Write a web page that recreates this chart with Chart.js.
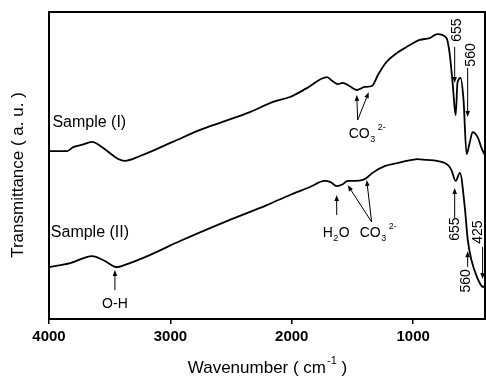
<!DOCTYPE html>
<html lang="en">
<head>
    <meta charset="UTF-8">
    <title>FTIR Spectra</title>
    <style>
        body {
            margin: 0;
            background-color: white;
        }
        canvas {
            display: block;
        }
    </style>
    <script src="https://cdn.jsdelivr.net/npm/chart.js"></script>
</head>
<body>
    <canvas id="ftirChart" width="486" height="377"></canvas>

    <script>
        const FONT = '"Liberation Sans", Arial, sans-serif';

        const tickValues = [4000, 3000, 2000, 1000];

        const wavenumbers1 = [4000, 3850, 3800, 3730, 3645, 3565, 3500, 3430, 3375, 3250, 2980, 2755, 2570, 2345, 2155, 2015, 1875, 1710, 1665, 1620, 1580, 1525, 1465, 1400, 1340, 1290, 1220, 1135, 1055, 945, 865, 800, 725, 700, 675, 650, 635, 610, 585, 560, 535, 510, 470, 430, 400];
        const sample1 = [54.7, 54.7, 56.0, 56.7, 57.7, 56.0, 54.1, 52.1, 51.5, 53.1, 57.7, 61.6, 64.2, 67.4, 70.7, 72.3, 75.2, 78.8, 77.5, 76.5, 76.9, 75.9, 74.6, 75.6, 75.9, 79.5, 83.7, 86.6, 88.6, 90.9, 91.5, 92.8, 91.5, 86.6, 76.9, 66.4, 76.9, 78.5, 71.3, 53.7, 57.3, 60.9, 59.3, 55.0, 52.8];

        const wavenumbers2 = [4000, 3825, 3645, 3540, 3440, 3375, 3170, 2920, 2535, 2205, 2015, 1850, 1730, 1680, 1630, 1580, 1540, 1480, 1415, 1385, 1335, 1235, 1130, 1010, 965, 890, 805, 715, 685, 650, 615, 575, 550, 520, 475, 435, 420, 400];
        const sample2 = [16.9, 18.2, 20.5, 18.9, 16.9, 17.6, 20.8, 25.4, 31.9, 37.1, 40.4, 43.0, 45.0, 44.6, 43.3, 43.9, 45.0, 45.0, 45.3, 45.9, 47.6, 49.8, 50.8, 51.8, 52.1, 51.8, 51.5, 50.2, 48.5, 45.0, 47.6, 36.5, 25.7, 19.2, 13.7, 10.7, 10.4, 11.7];

        // labels and arrows, placed in data units (wavenumber, transmittance)
        const sampleLabels = [
            { text: 'Sample (I)', w: 3972, v: 62.5 },
            { text: 'Sample (II)', w: 3985, v: 26.7 }
        ];
        const chemLabels = [
            { w: 1531, v: 59.0, parts: [['CO', 'n'], ['3', 'sub'], ['2-', 'sup']] },
            { w: 1745, v: 26.7, parts: [['H', 'n'], ['2', 'sub'], ['O', 'n']] },
            { w: 1440, v: 26.7, parts: [['CO', 'n'], ['3', 'sub'], ['2-', 'sup']] },
            { w: 3457, v: 3.6, parts: [['O-H', 'n']] }
        ];
        const peakLabels = [
            { text: '655', w: 634, v: 94.1 },
            { text: '560', w: 519, v: 86.0 },
            { text: '655', w: 658, v: 29.3 },
            { text: '560', w: 560, v: 12.4 },
            { text: '425', w: 461, v: 28.3 }
        ];
        const arrows = [
            { from: [1457, 64.8], to: [1465, 73.0] },
            { from: [1457, 64.8], to: [1366, 73.9] },
            { from: [658, 88.6], to: [658, 76.9] },
            { from: [551, 81.8], to: [551, 65.8] },
            { from: [1630, 33.9], to: [1630, 40.4] },
            { from: [1342, 31.6], to: [1539, 43.6] },
            { from: [1342, 31.6], to: [1383, 45.3] },
            { from: [658, 32.9], to: [658, 42.7] },
            { from: [551, 17.0], to: [551, 22.1] },
            { from: [428, 23.5], to: [428, 13.0] },
            { from: [3457, 9.4], to: [3457, 16.0] }
        ];

        function toPoints(xs, ys) {
            return xs.map((x, i) => ({ x: x, y: ys[i] }));
        }

        function drawArrow(ctx, x1, y1, x2, y2) {
            const ang = Math.atan2(y2 - y1, x2 - x1);
            const len = 6, half = 2.3;
            ctx.beginPath();
            ctx.moveTo(x1, y1);
            ctx.lineTo(x2 - Math.cos(ang) * len, y2 - Math.sin(ang) * len);
            ctx.stroke();
            ctx.beginPath();
            ctx.moveTo(x2, y2);
            ctx.lineTo(x2 - Math.cos(ang) * len - Math.sin(ang) * half, y2 - Math.sin(ang) * len + Math.cos(ang) * half);
            ctx.lineTo(x2 - Math.cos(ang) * len + Math.sin(ang) * half, y2 - Math.sin(ang) * len - Math.cos(ang) * half);
            ctx.closePath();
            ctx.fill();
        }

        function drawChem(ctx, x, y, parts) {
            parts.forEach(([txt, kind]) => {
                if (kind === 'n') {
                    ctx.font = '14px ' + FONT;
                    ctx.fillText(txt, x, y);
                } else if (kind === 'sub') {
                    ctx.font = '9px ' + FONT;
                    ctx.fillText(txt, x + 0.5, y + 4);
                } else {
                    ctx.font = '9px ' + FONT;
                    ctx.fillText(txt, x + 2, y - 8);
                }
                x += ctx.measureText(txt).width + (kind === 'n' ? 0 : 1);
            });
        }

        const decorations = {
            id: 'decorations',
            afterDraw(chart) {
                const ctx = chart.ctx;
                const area = chart.chartArea;
                const xs = chart.scales.x;
                const ys = chart.scales.y;
                const px = w => xs.getPixelForValue(w);
                const py = v => ys.getPixelForValue(v);

                ctx.save();
                ctx.strokeStyle = 'black';
                ctx.fillStyle = 'black';

                // frame
                ctx.lineWidth = 2;
                ctx.strokeRect(area.left, area.top, area.right - area.left - 1, area.bottom - area.top);

                // sample names
                ctx.textBaseline = 'alphabetic';
                ctx.textAlign = 'left';
                ctx.font = '16px ' + FONT;
                sampleLabels.forEach(l => ctx.fillText(l.text, px(l.w), py(l.v)));

                // chemical group labels
                chemLabels.forEach(l => {
                    let x = px(l.w);
                    if (l.parts.length === 1) {
                        ctx.font = '14px ' + FONT;
                        x -= ctx.measureText(l.parts[0][0]).width / 2;
                    }
                    drawChem(ctx, x, py(l.v), l.parts);
                });

                // rotated peak labels
                ctx.font = '14px ' + FONT;
                ctx.textAlign = 'center';
                ctx.textBaseline = 'middle';
                peakLabels.forEach(l => {
                    ctx.save();
                    ctx.translate(px(l.w), py(l.v));
                    ctx.rotate(-Math.PI / 2);
                    ctx.fillText(l.text, 0, 0);
                    ctx.restore();
                });

                // arrows
                ctx.lineWidth = 1;
                arrows.forEach(a => drawArrow(ctx, px(a.from[0]), py(a.from[1]), px(a.to[0]), py(a.to[1])));

                // y title
                ctx.font = '17px ' + FONT;
                ctx.save();
                ctx.translate(18, 175);
                ctx.rotate(-Math.PI / 2);
                ctx.textAlign = 'center';
                ctx.textBaseline = 'middle';
                ctx.fillText('Transmittance ( a. u. )', 0, 0);
                ctx.restore();

                // x title with superscript
                ctx.textAlign = 'left';
                ctx.textBaseline = 'alphabetic';
                const a = 'Wavenumber ( cm', b = '-1', c = ' )';
                ctx.font = '17px ' + FONT;
                const wa = ctx.measureText(a).width, wc = ctx.measureText(c).width;
                ctx.font = '11px ' + FONT;
                const wb = ctx.measureText(b).width + 1;
                let x0 = (area.left + area.right) / 2 - (wa + wb + wc) / 2;
                const base = 373;
                ctx.font = '17px ' + FONT;
                ctx.fillText(a, x0, base);
                ctx.font = '11px ' + FONT;
                ctx.fillText(b, x0 + wa + 1, base - 9);
                ctx.font = '17px ' + FONT;
                ctx.fillText(c, x0 + wa + wb, base);

                ctx.restore();
            }
        };

        new Chart(document.getElementById('ftirChart').getContext('2d'), {
            type: 'line',
            data: {
                datasets: [
                    {
                        label: 'Sample (I)',
                        data: toPoints(wavenumbers1, sample1),
                        borderColor: 'black',
                        borderWidth: 1.8,
                        pointRadius: 0,
                        fill: false,
                        cubicInterpolationMode: 'monotone'
                    },
                    {
                        label: 'Sample (II)',
                        data: toPoints(wavenumbers2, sample2),
                        borderColor: 'black',
                        borderWidth: 1.8,
                        pointRadius: 0,
                        fill: false,
                        cubicInterpolationMode: 'monotone'
                    }
                ]
            },
            options: {
                responsive: false,
                animation: false,
                layout: {
                    padding: { left: 49, top: 12, right: 0, bottom: 0 }
                },
                plugins: {
                    legend: { display: false },
                    tooltip: { enabled: false }
                },
                scales: {
                    x: {
                        type: 'linear',
                        min: 400,
                        max: 4000,
                        reverse: true,
                        afterBuildTicks: scale => {
                            scale.ticks = tickValues.map(v => ({ value: v }));
                        },
                        afterFit: scale => {
                            scale.height = 58;
                        },
                        grid: {
                            drawOnChartArea: false,
                            drawTicks: true,
                            tickLength: 5,
                            color: 'black',
                            lineWidth: 1.5
                        },
                        border: { display: true, color: 'black', width: 2 },
                        ticks: {
                            color: 'black',
                            padding: 4,
                            maxRotation: 0,
                            callback: v => String(v),
                            font: { family: FONT, size: 15, weight: 'bold' }
                        }
                    },
                    y: {
                        display: false,
                        min: 0,
                        max: 100
                    }
                }
            },
            plugins: [decorations]
        });
    </script>
</body>
</html>
